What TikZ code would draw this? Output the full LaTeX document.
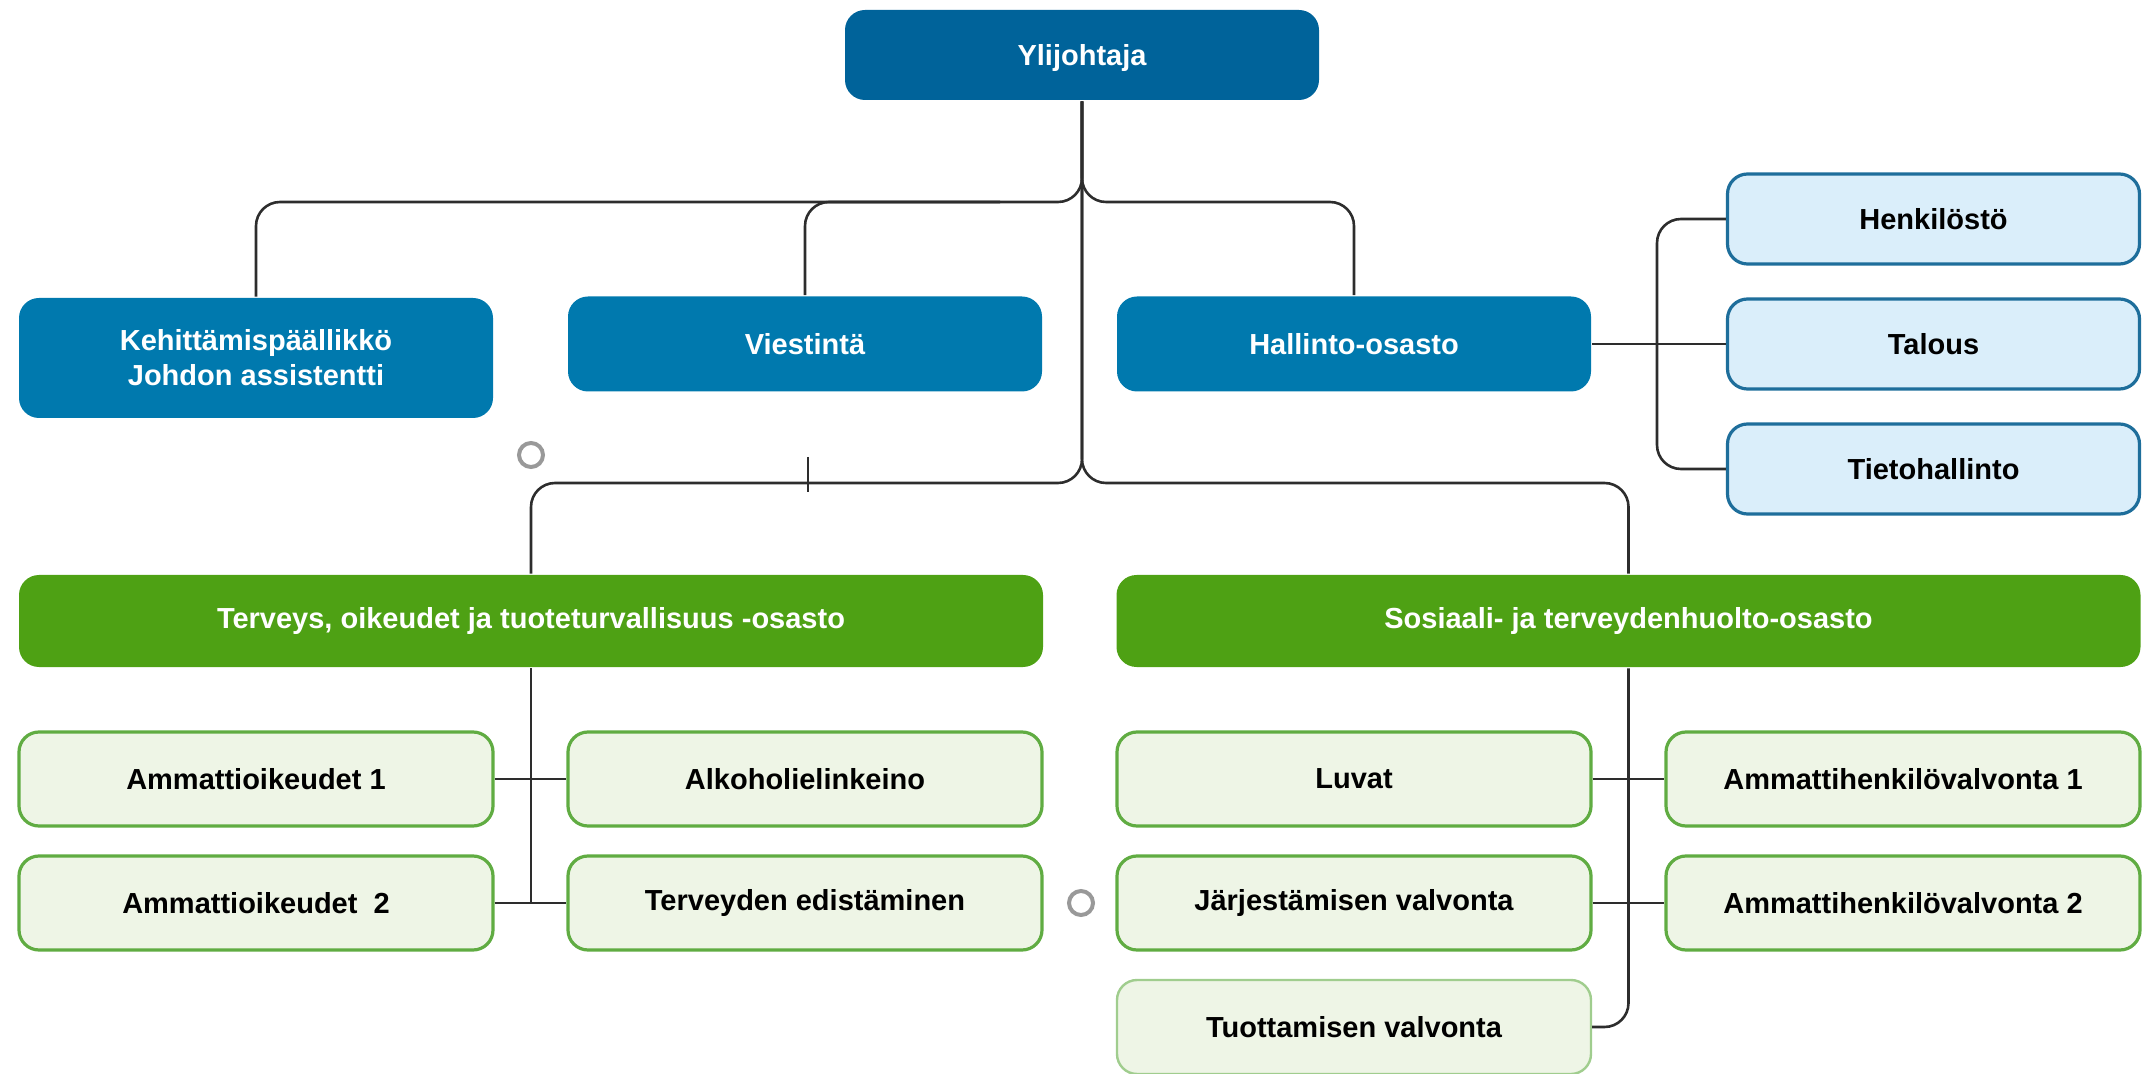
\documentclass[tikz,border=0pt]{standalone}
\usepackage{fontspec}
\setmainfont{Liberation Sans}

\definecolor{topblue}{RGB}{0,99,154}
\definecolor{unitblue}{RGB}{0,121,174}
\definecolor{paleblue}{RGB}{218,238,250}
\definecolor{paleblueline}{RGB}{30,110,155}
\definecolor{deptgreen}{RGB}{78,161,20}
\definecolor{palegreen}{RGB}{238,245,230}
\definecolor{palegreenline}{RGB}{96,172,66}
\definecolor{wiregray}{RGB}{45,45,45}

\begin{document}
\begin{tikzpicture}[x=0.5pt,y=-0.5pt,node distance=62pt,line width=1.3pt,
        font=\fontsize{14.5}{17.5}\selectfont\bfseries]
        \tikzstyle{box}=[rectangle,rounded corners=10pt,align=center,inner sep=0pt]
        \tikzstyle{chief}=[box,fill=topblue,text=white,minimum width=237pt,minimum height=45pt,text depth=0pt]
        \tikzstyle{unit}=[box,fill=unitblue,text=white,minimum width=237pt,minimum height=47.5pt]
        \tikzstyle{staff}=[box,fill=paleblue,draw=paleblueline,line width=1.6pt,text=black,minimum width=206pt,minimum height=45pt]
        \tikzstyle{dept}=[box,fill=deptgreen,text=white,minimum width=512pt,minimum height=46pt]
        \tikzstyle{team}=[box,fill=palegreen,draw=palegreenline,line width=1.6pt,text=black,minimum width=237pt,minimum height=47pt]
        \tikzstyle{wire}=[draw=wiregray,rounded corners=12pt]
        \tikzstyle{handle}=[circle,draw=black!40,line width=2pt,minimum size=12pt,inner sep=0pt]

        \useasboundingbox (0,0) rectangle (2147,1074);

        \node[chief] (yli) at (1082,55)      {Ylijohtaja};
        \node[unit,minimum height=60pt] (keh) at (256,358) {Kehittämispäällikkö\\Johdon assistentti};
        \node[unit]  (vie) at (805,344)      {Viestintä};
        \node[unit]  (hal) [right of=vie,node distance=274.5pt] {Hallinto-osasto};

        \node[staff] (hen) at (1933.5,219)   {Henkilöstö};
        \node[staff] (tal) [below of=hen,node distance=62.5pt] {Talous};
        \node[staff] (tie) [below of=tal,node distance=62.5pt] {Tietohallinto};

        \node[dept]  (ter) at (531,621)      {Terveys, oikeudet ja tuoteturvallisuus -osasto};
        \node[dept]  (sos) [right of=ter,node distance=548.75pt] {Sosiaali- ja terveydenhuolto-osasto};

        \node[team]  (amm1) at (256,779)     {Ammattioikeudet 1};
        \node[team]  (alk) [right of=amm1,node distance=274.5pt] {Alkoholielinkeino};
        \node[team]  (luv) [right of=alk,node distance=274.5pt]  {Luvat};
        \node[team]  (ah1) [right of=luv,node distance=274.5pt]  {Ammattihenkilövalvonta 1};
        \node[team]  (amm2) [below of=amm1]  {Ammattioikeudet\ \ 2};
        \node[team]  (ted) [below of=alk]    {Terveyden edistäminen};
        \node[team]  (jar) [below of=luv]    {Järjestämisen valvonta};
        \node[team]  (ah2) [below of=ah1]    {Ammattihenkilövalvonta 2};
        \node[team,draw=palegreenline!60,line width=1.2pt] (tuo) [below of=jar] {Tuottamisen valvonta};

        \node[handle] (pin1) at (531,455)    {};
        \node[handle] (pin2) at (1081,903)   {};

        \coordinate (upbus) at (1082,202);
        \coordinate (viejoin) at (1000,202);
        \coordinate (lowbus) at (1082,483);
        \coordinate (fork) at (1657,344);
        \coordinate (tickt) at (808,457);
        \coordinate (tickb) at (808,492);

        \draw[wire] (yli.south) -- (upbus) -| (keh.north);
        \draw[wire] (yli.south) -- (upbus) -| (hal.north);
        \draw[wire] (viejoin) -| (vie.north);
        \draw[wire] (yli.south) -- (lowbus) -| (ter.north);
        \draw[wire] (yli.south) -- (lowbus) -| (sos.north);
        \draw[wire] (tickt) -- (tickb);

        \draw[wire] (hal.east) -- (tal.west);
        \draw[wire] (fork) |- (hen.west);
        \draw[wire] (fork) |- (tie.west);

        \draw[wire] (ter.south) -- (ter.south |- amm2.east);
        \draw[wire] (amm1.east) -- (alk.west);
        \draw[wire] (amm2.east) -- (ted.west);
        \draw[wire] (sos.south) |- (tuo.east);
        \draw[wire] (luv.east) -- (ah1.west);
        \draw[wire] (jar.east) -- (ah2.west);
    \end{tikzpicture}
\end{document}
